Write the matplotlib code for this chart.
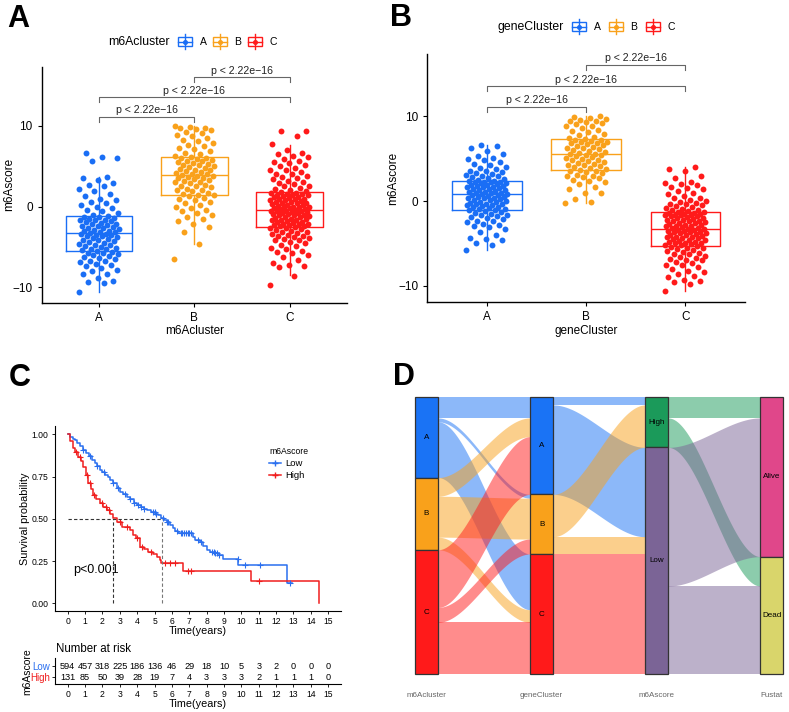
import numpy as np
import matplotlib.pyplot as plt
from matplotlib.patches import Rectangle
from matplotlib.lines import Line2D

plt.rcParams['font.family'] = ['Liberation Sans', 'DejaVu Sans']

W, H = 789, 712
fig = plt.figure(figsize=(W / 100, H / 100), dpi=100)


def px_axes(l, t, r, b):
    return fig.add_axes([l / W, 1 - b / H, (r - l) / W, (b - t) / H])


# ---------------- data ----------------
groups = ["A", "B", "C"]
grp_colors = ["#1A6EF5", "#F9A11B", "#FF1A1A"]

m6a_A = [-10.6, -9.5, -9.3, -9.2, -8.8, -8.4, -8.3, -8.0, -7.8, -7.6, -7.4, -7.3, -7.1, -6.9, -6.8, -6.7,
         -6.5, -6.4, -6.3, -6.1, -6.0, -5.9, -5.8, -5.7, -5.6, -5.5, -5.4, -5.3, -5.2, -5.1, -5.0, -4.9,
         -4.8, -4.7, -4.6, -4.5, -4.4, -4.3, -4.2, -4.1, -4.0, -3.9, -3.8, -3.7, -3.6, -3.5, -3.5, -3.4,
         -3.4, -3.3, -3.2, -3.1, -3.0, -3.0, -2.9, -2.8, -2.7, -2.6, -2.5, -2.4, -2.4, -2.3, -2.2, -2.1,
         -2.0, -1.9, -1.8, -1.7, -1.7, -1.6, -1.5, -1.4, -1.3, -1.3, -1.2, -1.0, -0.8, -0.6, -0.4, -0.2,
         0.0, 0.2, 0.4, 0.6, 0.8, 1.0, 1.3, 1.6, 1.9, 2.2, 2.5, 2.7, 2.9, 3.3, 3.5, 3.7, 5.6, 6.0, 6.1, 6.6]
m6a_B = [-6.5, -4.6, -3.1, -2.5, -2.2, -1.8, -1.5, -1.3, -1.0, -0.8, -0.6, -0.4, -0.2, 0.0, 0.2, 0.4,
         0.6, 0.8, 1.0, 1.1, 1.3, 1.4, 1.5, 1.6, 1.7, 1.9, 2.0, 2.1, 2.2, 2.4, 2.5, 2.6, 2.7, 2.9, 3.0,
         3.1, 3.2, 3.3, 3.4, 3.5, 3.6, 3.7, 3.8, 3.8, 3.9, 4.0, 4.1, 4.2, 4.3, 4.4, 4.5, 4.6, 4.7, 4.8,
         4.9, 5.0, 5.1, 5.2, 5.3, 5.4, 5.5, 5.6, 5.7, 5.8, 5.9, 6.0, 6.0, 6.1, 6.3, 6.5, 6.7, 6.9, 7.1,
         7.3, 7.5, 7.7, 7.9, 8.1, 8.3, 8.5, 8.7, 8.9, 9.1, 9.3, 9.5, 9.6, 9.7, 9.8, 9.9, 10.0]
m6a_C = [-9.7, -8.6, -7.5, -7.4, -7.3, -7.0, -6.6, -6.3, -6.0, -5.8, -5.6, -5.5, -5.3, -5.1, -4.9, -4.7,
         -4.5, -4.4, -4.2, -4.1, -4.0, -3.9, -3.8, -3.7, -3.6, -3.5, -3.4, -3.3, -3.2, -3.1, -3.0, -2.9,
         -2.8, -2.7, -2.6, -2.5, -2.4, -2.4, -2.3, -2.3, -2.2, -2.1, -2.1, -2.0, -1.9, -1.9, -1.8, -1.7,
         -1.7, -1.6, -1.5, -1.5, -1.4, -1.3, -1.3, -1.2, -1.1, -1.1, -1.0, -0.9, -0.9, -0.8, -0.8, -0.7,
         -0.7, -0.6, -0.6, -0.5, -0.5, -0.4, -0.3, -0.3, -0.2, -0.2, -0.1, -0.1, 0.0, 0.0, 0.1, 0.2, 0.2,
         0.3, 0.4, 0.4, 0.5, 0.6, 0.6, 0.7, 0.8, 0.8, 0.9, 1.0, 1.0, 1.1, 1.2, 1.2, 1.3, 1.4, 1.4, 1.5,
         1.6, 1.6, 1.7, 1.7, 1.8, 1.9, 2.0, 2.2, 2.3, 2.5, 2.6, 2.8, 2.9, 3.1, 3.2, 3.4, 3.5, 3.7, 3.8,
         4.0, 4.1, 4.3, 4.5, 4.6, 4.8, 5.0, 5.2, 5.4, 5.5, 5.7, 5.9, 6.1, 6.3, 6.5, 6.7, 7.0, 7.8, 8.7,
         9.4, 9.4]
# box stats: whislo, q1, median, q3, whishi
m6a_box = [[-10.6, -5.5, -3.3, -1.2, 3.7], [-4.6, 1.5, 3.9, 6.1, 10.0], [-8.5, -2.5, -0.4, 1.8, 7.7]]

# panel B: m6Ascore by geneCluster
gene_A = [-5.8, -5.2, -4.9, -4.6, -4.5, -4.4, -4.0, -3.6, -3.3, -3.1, -3.0, -2.8, -2.7, -2.5, -2.4, -2.3,
          -2.1, -2.0, -1.9, -1.8, -1.7, -1.6, -1.5, -1.4, -1.3, -1.2, -1.1, -1.0, -0.9, -0.9, -0.8, -0.7,
          -0.7, -0.6, -0.5, -0.5, -0.4, -0.3, -0.3, -0.2, -0.1, -0.1, 0.0, 0.1, 0.1, 0.2, 0.3, 0.3, 0.4,
          0.5, 0.5, 0.6, 0.7, 0.7, 0.8, 0.8, 0.9, 0.9, 1.0, 1.1, 1.1, 1.2, 1.3, 1.3, 1.4, 1.4, 1.5, 1.6,
          1.6, 1.7, 1.8, 1.8, 1.9, 1.9, 2.0, 2.1, 2.1, 2.2, 2.2, 2.3, 2.3, 2.4, 2.4, 2.5, 2.6, 2.7, 2.8,
          2.9, 3.0, 3.1, 3.2, 3.3, 3.4, 3.5, 3.6, 3.8, 3.9, 4.0, 4.2, 4.4, 4.6, 4.8, 5.0, 5.1, 5.3, 5.5,
          5.9, 6.2, 6.5, 6.6]
gene_B = [-0.2, -0.1, 0.2, 0.9, 1.0, 1.4, 1.7, 2.0, 2.2, 2.4, 2.5, 2.7, 2.8, 2.9, 3.0, 3.1, 3.3, 3.4,
          3.5, 3.6, 3.7, 3.8, 3.9, 4.0, 4.1, 4.2, 4.3, 4.4, 4.5, 4.6, 4.7, 4.8, 4.9, 5.0, 5.1, 5.2, 5.3,
          5.4, 5.4, 5.5, 5.6, 5.7, 5.8, 5.9, 6.0, 6.1, 6.2, 6.3, 6.4, 6.5, 6.6, 6.7, 6.8, 6.9, 7.0, 7.0,
          7.1, 7.2, 7.2, 7.3, 7.4, 7.6, 7.8, 7.9, 8.1, 8.3, 8.4, 8.6, 8.8, 8.9, 9.1, 9.2, 9.3, 9.4, 9.5,
          9.6, 9.7, 9.8, 9.9, 10.0]
gene_C = [-10.6, -9.8, -9.6, -9.4, -9.3, -9.0, -8.8, -8.6, -8.4, -8.2, -8.0, -7.8, -7.6, -7.5, -7.3,
          -7.2, -7.0, -6.9, -6.8, -6.7, -6.6, -6.5, -6.3, -6.2, -6.1, -6.0, -5.9, -5.8, -5.7, -5.6, -5.5,
          -5.4, -5.3, -5.2, -5.2, -5.1, -5.0, -5.0, -4.9, -4.8, -4.8, -4.7, -4.6, -4.6, -4.5, -4.4, -4.4,
          -4.3, -4.2, -4.2, -4.1, -4.0, -4.0, -3.9, -3.8, -3.8, -3.7, -3.6, -3.6, -3.5, -3.5, -3.4, -3.4,
          -3.3, -3.3, -3.2, -3.2, -3.1, -3.0, -3.0, -2.9, -2.8, -2.8, -2.7, -2.6, -2.6, -2.5, -2.4, -2.4,
          -2.3, -2.2, -2.2, -2.1, -2.0, -2.0, -1.9, -1.8, -1.8, -1.7, -1.7, -1.6, -1.6, -1.5, -1.5, -1.4,
          -1.4, -1.3, -1.3, -1.2, -1.1, -1.0, -0.9, -0.8, -0.7, -0.6, -0.5, -0.4, -0.3, -0.2, -0.1, 0.0,
          0.1, 0.3, 0.4, 0.6, 0.8, 1.0, 1.2, 1.4, 1.5, 1.7, 1.9, 2.0, 2.1, 2.3, 2.7, 2.9, 3.5, 3.8, 4.0]
gene_box = [[-5.8, -1.0, 0.8, 2.4, 6.6], [-0.2, 3.7, 5.5, 7.3, 10.0], [-10.6, -5.3, -3.3, -1.3, 4.0]]

pval_text = "p < 2.22e\u221216"
pairs = [(1, 2), (1, 3), (2, 3)]
pair_y = [11.15, 13.6, 16.1]

# panel C: Kaplan-Meier
t_low = [0, 0.15, 0.3, 0.42, 0.55, 0.7, 0.9, 1.05, 1.2, 1.38, 1.55, 1.7, 1.86, 2.0, 2.15, 2.3, 2.44,
         2.6, 2.82, 3.0, 3.2, 3.4, 3.6, 3.8, 3.97, 4.2, 4.4, 4.55, 4.8, 5.03, 5.2, 5.4, 5.55, 5.7, 5.88,
         6.05, 6.2, 6.36, 7.2, 7.35, 7.6, 7.8, 8.0, 8.2, 8.5, 8.7, 8.96, 9.82, 12.6]
s_low = [1.0, 0.985, 0.975, 0.966, 0.95, 0.93, 0.907, 0.89, 0.87, 0.848, 0.83, 0.81, 0.789, 0.775,
         0.76, 0.745, 0.73, 0.71, 0.68, 0.66, 0.645, 0.63, 0.615, 0.595, 0.58, 0.57, 0.56, 0.55, 0.54,
         0.53, 0.52, 0.503, 0.49, 0.48, 0.464, 0.445, 0.43, 0.414, 0.39, 0.375, 0.365, 0.34, 0.315,
         0.305, 0.295, 0.286, 0.26, 0.227, 0.118]
t_low_end = 12.9
cens_low = [0.9, 1.3, 1.7, 2.1, 2.6, 2.9, 3.3, 3.6, 3.8, 4.05, 4.2, 4.4, 4.9, 5.0, 5.1, 5.5, 5.7, 5.8,
            6.3, 6.5, 6.6, 6.7, 6.8, 6.9, 7.0, 7.1, 7.5, 7.7, 8.3, 8.4, 8.5, 8.6, 8.7, 9.8, 10.2, 11.1, 12.8]
t_high = [0, 0.15, 0.31, 0.45, 0.6, 0.75, 0.9, 1.05, 1.19, 1.33, 1.48, 1.65, 1.86, 2.05, 2.25, 2.45,
          2.63, 2.85, 3.11, 3.59, 3.78, 3.95, 4.17, 4.4, 4.65, 4.9, 5.13, 5.3, 5.4, 6.62, 10.53, 14.49]
s_high = [1.0, 0.96, 0.92, 0.895, 0.868, 0.84, 0.808, 0.76, 0.71, 0.675, 0.64, 0.615, 0.592, 0.572,
          0.553, 0.528, 0.503, 0.48, 0.454, 0.434, 0.405, 0.385, 0.335, 0.32, 0.306, 0.29, 0.276, 0.258,
          0.237, 0.193, 0.13, 0.0]
cens_high = [0.5, 0.7, 1.1, 1.3, 1.5, 2.0, 2.2, 2.4, 3.0, 3.4, 4.0, 4.3, 4.8, 5.6, 5.9, 6.2, 6.9, 7.1, 11.0]
median_low, median_high = 5.41, 2.63
risk_times = list(range(16))
risk_low = [594, 457, 318, 225, 186, 136, 46, 29, 18, 10, 5, 3, 2, 0, 0, 0]
risk_high = [131, 85, 50, 39, 28, 19, 7, 4, 3, 3, 3, 2, 1, 1, 1, 0]
km_low_col, km_high_col = "#2A6FEF", "#F01E1E"

# panel D: alluvial flows (counts)
axis_names = ["m6Acluster", "geneCluster", "m6Ascore", "Fustat"]
axis_strata = [["A", "B", "C"], ["A", "B", "C"], ["High", "Low"], ["Alive", "Dead"]]
flows_12 = [("A", "A", 54), ("A", "B", 10), ("A", "C", 146), ("B", "A", 49), ("B", "B", 107),
            ("B", "C", 33), ("C", "A", 151), ("C", "B", 39), ("C", "C", 136)]
flows_23 = [("A", "High", 20), ("A", "Low", 234), ("B", "High", 111), ("B", "Low", 45), ("C", "Low", 315)]
flows_34 = [("High", "Alive", 54), ("High", "Dead", 77), ("Low", "Alive", 363), ("Low", "Dead", 231)]
strat_colors = {"A": "#1A73F5", "B": "#F9A11B", "C": "#FF1A1A", "High": "#1B9A5A",
                "Low": "#7B6496", "Alive": "#E0478A", "Dead": "#D9D56B"}


# ---------------- panels A & B ----------------
def box_panel(ax, data, box, xlabel, ylab_x):
    for i, vals in enumerate(data):
        vals = np.array(vals)
        off = ((np.arange(len(vals)) * 0.618034) % 1 - 0.5) * 0.42
        ax.scatter(i + 1 + off, vals, s=18, color=grp_colors[i], lw=0, zorder=2)
    stats = [dict(whislo=b[0], q1=b[1], med=b[2], q3=b[3], whishi=b[4], fliers=[]) for b in box]
    art = ax.bxp(stats, positions=[1, 2, 3], widths=0.7, showfliers=False, showcaps=False,
                 patch_artist=False, manage_ticks=False, zorder=3)
    for i in range(3):
        c = grp_colors[i]
        art['boxes'][i].set(color=c, lw=1.0)
        art['medians'][i].set(color=c, lw=1.0)
        for w in art['whiskers'][2 * i:2 * i + 2]:
            w.set(color=c, lw=1.0)
    for (a, b), y in zip(pairs, pair_y):
        ax.plot([a, a, b, b], [y - 0.65, y, y, y - 0.65], color="#666666", lw=0.8)
        ax.text((a + b) / 2, y + 0.15, pval_text, ha="center", va="bottom", fontsize=7.6, color="#222222")
    ax.set_xlim(0.4, 3.6)
    ax.set_ylim(-11.95, 17.35)
    ax.set_xticks([1, 2, 3], groups)
    ax.set_yticks([-10, 0, 10])
    ax.spines[["top", "right"]].set_visible(False)
    ax.spines[["left", "bottom"]].set_linewidth(1.0)
    ax.tick_params(labelsize=8.5, length=3, width=0.8)
    ax.set_xlabel(xlabel, fontsize=8.5, labelpad=1)
    ax.set_ylabel("m6Ascore", fontsize=8.5, va="center")
    ax.yaxis.set_label_coords(ylab_x, 0.5)


axA = px_axes(41.7, 66.7, 347, 303)
box_panel(axA, [m6a_A, m6a_B, m6a_C], m6a_box, "m6Acluster", -0.107)
axB = px_axes(427.3, 54, 745, 302.3)
box_panel(axB, [gene_A, gene_B, gene_C], gene_box, "geneCluster", -0.108)

# legends for A and B drawn in pixel coordinates on an overlay axes
axL = fig.add_axes([0, 0, 1, 1], facecolor="none")
axL.set_xlim(0, W)
axL.set_ylim(H, 0)
axL.axis("off")


def box_legend(title, title_right, y, key_left):
    axL.text(title_right, y, title, ha="right", va="center", fontsize=8.8)
    for x0, c, g in zip(key_left, grp_colors, groups):
        axL.add_patch(Rectangle((x0, y - 4.5), 14, 9, facecolor="white", edgecolor=c, lw=1.0))
        axL.plot([x0, x0 + 14], [y, y], color=c, lw=1.0)
        axL.plot([x0 + 7, x0 + 7], [y - 7.5, y + 7.5], color=c, lw=1.0)
        axL.plot([x0 + 7], [y], marker="o", ms=2.6, color=c)
        axL.text(x0 + 25, y, g, ha="center", va="center", fontsize=7.5)


box_legend("m6Acluster", 170, 41.7, [178, 213, 248])
box_legend("geneCluster", 564, 26.7, [572, 609, 646])

# ---------------- panel C ----------------
axC = px_axes(55, 426, 340.7, 610.7)
axC.step(t_low + [t_low_end], s_low + [s_low[-1]], where="post", color=km_low_col, lw=1.1)
axC.step(t_high, s_high, where="post", color=km_high_col, lw=1.1)


def surv_at(t, ts, ss):
    return ss[np.searchsorted(ts, t, side="right") - 1]


axC.plot(cens_low, [surv_at(t, t_low, s_low) for t in cens_low], ls="none", marker="+",
         ms=4, mew=0.8, color=km_low_col)
axC.plot(cens_high, [surv_at(t, t_high, s_high) for t in cens_high], ls="none", marker="+",
         ms=4, mew=0.8, color=km_high_col)
axC.plot([0, median_low], [0.5, 0.5], ls=(0, (3, 2)), color="#333333", lw=0.8)
axC.plot([median_high, median_high], [0, 0.5], ls=(0, (3, 2)), color="#333333", lw=0.8)
axC.plot([median_low, median_low], [0, 0.5], ls=(0, (3, 2)), color="#777777", lw=0.8)
axC.text(0.3, 0.197, "p<0.001", fontsize=9, va="center", ha="left")
axC.set_xlim(-0.73, 15.72)
axC.set_ylim(-0.044, 1.049)
axC.set_xticks(risk_times)
axC.set_yticks([0, 0.25, 0.5, 0.75, 1.0], ["0.00", "0.25", "0.50", "0.75", "1.00"])
axC.spines[["top", "right"]].set_visible(False)
axC.spines[["left", "bottom"]].set_linewidth(0.8)
axC.tick_params(labelsize=6.2, length=2.5, width=0.6, pad=2)
axC.set_xlabel("Time(years)", fontsize=7.8, labelpad=0)
axC.set_ylabel("Survival probability", fontsize=7.8, va="center")
axC.yaxis.set_label_coords(-0.104, 0.5)
axC.legend(handles=[Line2D([], [], color=km_low_col, marker="+", ms=4, lw=1.1, label="Low"),
                    Line2D([], [], color=km_high_col, marker="+", ms=4, lw=1.1, label="High")],
           title="m6Ascore", loc="upper left", bbox_to_anchor=(0.72, 0.93), frameon=False,
           fontsize=6.8, title_fontsize=6.2, handlelength=1.2, handletextpad=0.5,
           labelspacing=0.3, alignment="left")

axR = px_axes(55, 658, 340.7, 684)
for t, lo, hi in zip(risk_times, risk_low, risk_high):
    axR.text(t, 2, str(lo), ha="center", va="center", fontsize=6.6)
    axR.text(t, 1, str(hi), ha="center", va="center", fontsize=6.6)
axR.set_xlim(-0.73, 15.72)
axR.set_ylim(0.4, 2.76)
axR.set_xticks(risk_times)
axR.set_yticks([1, 2], ["High", "Low"])
for lab, c in zip(axR.get_yticklabels(), [km_high_col, km_low_col]):
    lab.set_color(c)
    lab.set_fontsize(7)
axR.spines[["top", "right"]].set_visible(False)
axR.spines[["left", "bottom"]].set_linewidth(0.8)
axR.tick_params(axis="x", labelsize=6.2, length=2.5, width=0.6, pad=2)
axR.tick_params(axis="y", length=2.5, width=0.6, pad=1)
axR.set_xlabel("Time(years)", fontsize=7.8, labelpad=0)
fig.text(56 / W, 1 - 649 / H, "Number at risk", fontsize=8.3, va="center", ha="left")
fig.text(27 / W, 1 - 672 / H, "m6Ascore", fontsize=7.5, rotation=90, va="center", ha="center")

# ---------------- panel D ----------------
axD = px_axes(400, 390, 789, 705)
axD.set_xlim(0.77, 4.15)
axD.set_ylim(805.3, -19.1)
axD.axis("off")
bw = 0.2


def ribbon(x0, x1, ya, yb, color):
    xs = np.linspace(x0, x1, 60)
    s = (xs - x0) / (x1 - x0)
    w = s * s * (3 - 2 * s)
    top = ya[0] + (ya[1] - ya[0]) * w
    bot = yb[0] + (yb[1] - yb[0]) * w
    axD.fill_between(xs, top, bot, color=color, alpha=0.5, lw=0, zorder=1)


def draw_flows(k, flows, lord, rord):
    ltot = [sum(n for a, b, n in flows if a == s) for s in lord]
    rtot = [sum(n for a, b, n in flows if b == s) for s in rord]
    lcur = dict(zip(lord, np.cumsum([0] + ltot)[:-1]))
    rcur = dict(zip(rord, np.cumsum([0] + rtot)[:-1]))
    lpos, rpos = {}, {}
    for a, b, n in sorted(flows, key=lambda f: (lord.index(f[0]), rord.index(f[1]))):
        lpos[(a, b)] = lcur[a]
        lcur[a] += n
    for a, b, n in sorted(flows, key=lambda f: (rord.index(f[1]), lord.index(f[0]))):
        rpos[(a, b)] = rcur[b]
        rcur[b] += n
    for a, b, n in flows:
        l0, r0 = lpos[(a, b)], rpos[(a, b)]
        ribbon(k + bw / 2, k + 1 - bw / 2, (l0, r0), (l0 + n, r0 + n), strat_colors[a])
    return ltot, rtot


tot1, _ = draw_flows(1, flows_12, axis_strata[0], axis_strata[1])
tot2, _ = draw_flows(2, flows_23, axis_strata[1], axis_strata[2])
tot3, tot4 = draw_flows(3, flows_34, axis_strata[2], axis_strata[3])

for k, (names, tots) in enumerate(zip(axis_strata, [tot1, tot2, tot3, tot4])):
    y = 0
    for nm, n in zip(names, tots):
        axD.add_patch(Rectangle((k + 1 - bw / 2, y), bw, n, facecolor=strat_colors[nm],
                                edgecolor="#333333", lw=0.9, zorder=3))
        axD.text(k + 1, y + n / 2, nm, ha="center", va="center", fontsize=5.8, zorder=4)
        y += n
    axD.text(k + 1, 781, axis_names[k], ha="center", va="center", fontsize=5.8, color="#666666")

# panel letters
for lab, x, y in [("A", 18, 19), ("B", 401, 18), ("C", 20, 378), ("D", 404, 377)]:
    fig.text(x / W, 1 - y / H, lab, fontsize=22, fontweight="bold", ha="center", va="center")

fig.savefig("out.png", dpi=100)
